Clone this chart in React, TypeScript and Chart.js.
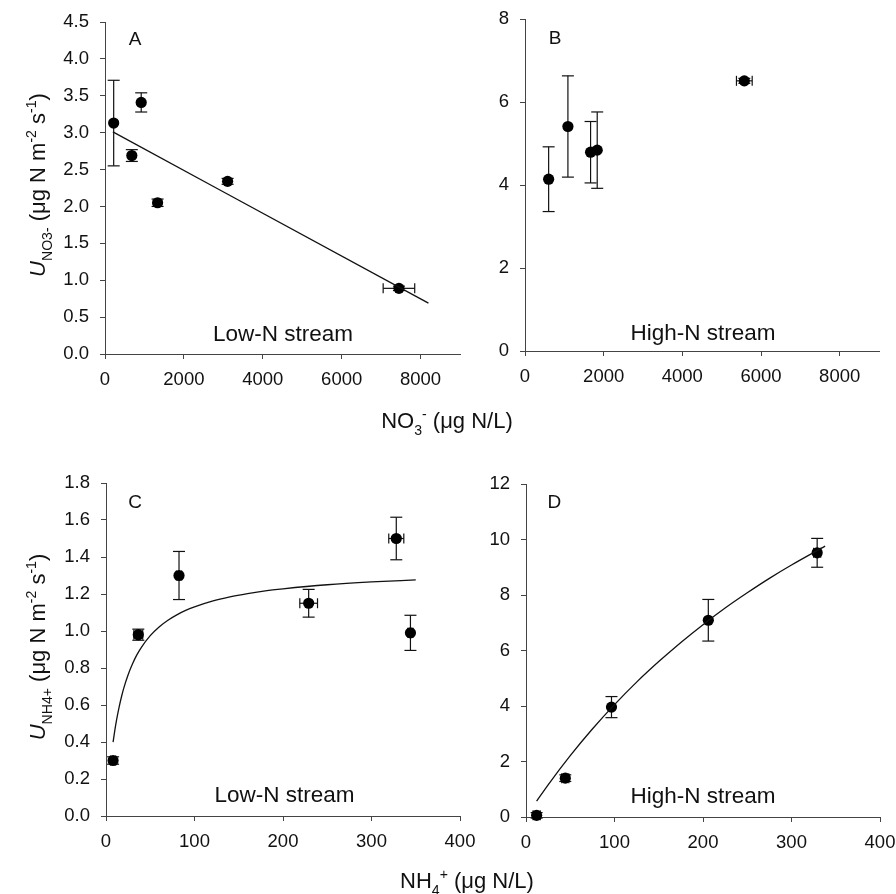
import React, { useEffect, useRef } from 'react';
import { Chart, registerables } from 'chart.js';

Chart.register(...registerables);

// ---------------- data ----------------
// Panel A: NO3- uptake, low-N stream
const A_NO3 = [220, 680, 918, 1333, 3108, 7452];
const A_UPTAKE = [3.13, 2.69, 3.41, 2.05, 2.34, 0.89];
const A_UPTAKE_SE = [0.58, 0.08, 0.13, 0.05, 0.04, 0.03];
const A_NO3_SE = [0, 0, 0, 0, 0, 400];
const A_FIT_X = [200, 8200];
const A_FIT_Y = [3.01, 0.69];

// Panel B: NO3- uptake, high-N stream
const B_NO3 = [601, 1091, 1667, 1836, 5576];
const B_UPTAKE = [4.14, 5.41, 4.79, 4.84, 6.51];
const B_UPTAKE_SE = [0.78, 1.22, 0.74, 0.92, 0.06];
const B_NO3_SE = [0, 0, 0, 0, 200];

// Panel C: NH4+ uptake, low-N stream
const C_NH4 = [8, 36.5, 82.5, 229, 328, 344];
const C_UPTAKE = [0.3, 0.98, 1.3, 1.15, 1.5, 0.99];
const C_UPTAKE_SE = [0.02, 0.03, 0.13, 0.075, 0.115, 0.095];
const C_NH4_SE = [3, 5, 3, 10, 8.5, 3];
const C_FIT_X = [8, 10, 12, 15, 18, 20, 25, 30, 35, 40, 50, 60, 70, 80, 90, 100, 120, 140, 160, 180, 200, 250, 300, 350];
const C_FIT_Y = [0.399, 0.464, 0.521, 0.593, 0.654, 0.69, 0.764, 0.823, 0.872, 0.912, 0.975, 1.022, 1.058, 1.087, 1.111, 1.13, 1.161, 1.184, 1.202, 1.217, 1.228, 1.25, 1.265, 1.276];

// Panel D: NH4+ uptake, high-N stream
const D_NH4 = [12, 44.4, 96.6, 206, 329];
const D_UPTAKE = [0.06, 1.4, 3.96, 7.09, 9.52];
const D_UPTAKE_SE = [0.1, 0.12, 0.38, 0.75, 0.52];
const D_NH4_SE = [4, 4, 0, 0, 4];
const D_FIT_X = [12, 25, 50, 75, 100, 125, 150, 175, 200, 225, 250, 275, 300, 338];
const D_FIT_Y = [0.57, 1.16, 2.21, 3.17, 4.05, 4.86, 5.6, 6.29, 6.93, 7.53, 8.08, 8.6, 9.08, 9.76];

// ticks
const NO3_TICKS = [0, 2000, 4000, 6000, 8000];
const NO3_TICK_LABELS = ['0', '2000', '4000', '6000', '8000'];
const NH4_TICKS = [0, 100, 200, 300, 400];
const NH4_TICK_LABELS = ['0', '100', '200', '300', '400'];
const A_Y_TICKS = [0, 0.5, 1, 1.5, 2, 2.5, 3, 3.5, 4, 4.5];
const A_Y_TICK_LABELS = ['0.0', '0.5', '1.0', '1.5', '2.0', '2.5', '3.0', '3.5', '4.0', '4.5'];
const B_Y_TICKS = [0, 2, 4, 6, 8];
const B_Y_TICK_LABELS = ['0', '2', '4', '6', '8'];
const C_Y_TICKS = [0, 0.2, 0.4, 0.6, 0.8, 1, 1.2, 1.4, 1.6, 1.8];
const C_Y_TICK_LABELS = ['0.0', '0.2', '0.4', '0.6', '0.8', '1.0', '1.2', '1.4', '1.6', '1.8'];
const D_Y_TICKS = [0, 2, 4, 6, 8, 10, 12];
const D_Y_TICK_LABELS = ['0', '2', '4', '6', '8', '10', '12'];

const PANEL_LETTERS = ['A', 'B', 'C', 'D'];
const STREAM_LABELS = ['Low-N stream', 'High-N stream', 'Low-N stream', 'High-N stream'];

type Seg = { t: string; s?: 'sub' | 'sup'; i?: boolean };
const Y_TITLE_NO3: Seg[] = [
  { t: 'U', i: true }, { t: 'NO3-', s: 'sub' }, { t: ' (μg N m' }, { t: '-2', s: 'sup' },
  { t: ' s' }, { t: '-1', s: 'sup' }, { t: ')' },
];
const Y_TITLE_NH4: Seg[] = [
  { t: 'U', i: true }, { t: 'NH4+', s: 'sub' }, { t: ' (μg N m' }, { t: '-2', s: 'sup' },
  { t: ' s' }, { t: '-1', s: 'sup' }, { t: ')' },
];
const X_TITLE_NO3: Seg[] = [{ t: 'NO' }, { t: '3', s: 'sub' }, { t: '-', s: 'sup' }, { t: ' (μg N/L)' }];
const X_TITLE_NH4: Seg[] = [{ t: 'NH' }, { t: '4', s: 'sub' }, { t: '+', s: 'sup' }, { t: ' (μg N/L)' }];

// ---------------- drawing helpers ----------------
const FONT = "'Liberation Sans', Arial, Helvetica, sans-serif";
const INK = '#111';
const AXIS = '#444';

function drawRich(ctx: CanvasRenderingContext2D, segs: Seg[], x: number, y: number, size: number, rot: number) {
  const small = size * 0.64;
  ctx.save();
  ctx.translate(x, y);
  if (rot) ctx.rotate(rot);
  ctx.textAlign = 'left';
  ctx.textBaseline = 'alphabetic';
  ctx.fillStyle = INK;
  const f = (g: Seg) => `${g.i ? 'italic ' : ''}${g.s ? small : size}px ${FONT}`;
  let w = 0;
  const ws = segs.map((g) => {
    ctx.font = f(g);
    const m = ctx.measureText(g.t).width;
    w += m;
    return m;
  });
  let cx = -w / 2;
  segs.forEach((g, k) => {
    ctx.font = f(g);
    const dy = g.s === 'sub' ? size * 0.3 : g.s === 'sup' ? -size * 0.42 : 0;
    ctx.fillText(g.t, cx, dy);
    cx += ws[k];
  });
  ctx.restore();
}

interface Title { segs: Seg[]; x: number; y: number; rot: number }
interface PanelSpec {
  xs: number[]; ys: number[]; yErr: number[]; xErr: number[];
  fitX: number[]; fitY: number[];
  xMin: number; xMax: number; yMin: number; yMax: number;
  xTicks: number[]; xLabels: string[]; yTicks: number[]; yLabels: string[];
  area: { l: number; r: number; t: number; b: number }; padR: number;
  letter: string; letterPos: [number, number];
  stream: string; streamPos: [number, number];
  titles: Title[];
}

const PANELS: PanelSpec[] = [
  {
    xs: A_NO3, ys: A_UPTAKE, yErr: A_UPTAKE_SE, xErr: A_NO3_SE, fitX: A_FIT_X, fitY: A_FIT_Y,
    xMin: 0, xMax: 9000, yMin: 0, yMax: 4.5,
    xTicks: NO3_TICKS, xLabels: NO3_TICK_LABELS, yTicks: A_Y_TICKS, yLabels: A_Y_TICK_LABELS,
    area: { l: 105, r: 460, t: 22, b: 354 }, padR: 100,
    letter: PANEL_LETTERS[0], letterPos: [135, 44.5],
    stream: STREAM_LABELS[0], streamPos: [283, 340.5],
    titles: [
      { segs: Y_TITLE_NO3, x: 45, y: 185, rot: -Math.PI / 2 },
      { segs: X_TITLE_NO3, x: 447, y: 428, rot: 0 },
    ],
  },
  {
    xs: B_NO3, ys: B_UPTAKE, yErr: B_UPTAKE_SE, xErr: B_NO3_SE, fitX: [], fitY: [],
    xMin: 0, xMax: 9000, yMin: 0, yMax: 8,
    xTicks: NO3_TICKS, xLabels: NO3_TICK_LABELS, yTicks: B_Y_TICKS, yLabels: B_Y_TICK_LABELS,
    area: { l: 525, r: 879, t: 19, b: 351 }, padR: 40,
    letter: PANEL_LETTERS[1], letterPos: [555, 44.3],
    stream: STREAM_LABELS[1], streamPos: [703, 340],
    titles: [],
  },
  {
    xs: C_NH4, ys: C_UPTAKE, yErr: C_UPTAKE_SE, xErr: C_NH4_SE, fitX: C_FIT_X, fitY: C_FIT_Y,
    xMin: 0, xMax: 400, yMin: 0, yMax: 1.8,
    xTicks: NH4_TICKS, xLabels: NH4_TICK_LABELS, yTicks: C_Y_TICKS, yLabels: C_Y_TICK_LABELS,
    area: { l: 106, r: 460, t: 483, b: 816 }, padR: 100,
    letter: PANEL_LETTERS[2], letterPos: [135, 507.7],
    stream: STREAM_LABELS[2], streamPos: [284.5, 802.3],
    titles: [
      { segs: Y_TITLE_NH4, x: 45, y: 647, rot: -Math.PI / 2 },
      { segs: X_TITLE_NH4, x: 467, y: 888, rot: 0 },
    ],
  },
  {
    xs: D_NH4, ys: D_UPTAKE, yErr: D_UPTAKE_SE, xErr: D_NH4_SE, fitX: D_FIT_X, fitY: D_FIT_Y,
    xMin: 0, xMax: 400, yMin: 0, yMax: 12,
    xTicks: NH4_TICKS, xLabels: NH4_TICK_LABELS, yTicks: D_Y_TICKS, yLabels: D_Y_TICK_LABELS,
    area: { l: 526, r: 880, t: 484, b: 817 }, padR: 40,
    letter: PANEL_LETTERS[3], letterPos: [554.3, 507.7],
    stream: STREAM_LABELS[3], streamPos: [703, 803.3],
    titles: [],
  },
];

const PAD_L = 70, Y_W = 50, PAD_T = 40, X_H = 60, PAD_B = 40;

function geom(p: PanelSpec) {
  const left = p.area.l - PAD_L - Y_W;
  const top = p.area.t - PAD_T;
  const width = PAD_L + Y_W + (p.area.r - p.area.l) + p.padR;
  const height = PAD_T + (p.area.b - p.area.t) + X_H + PAD_B;
  return { left, top, width, height };
}

function makeChart(canvas: HTMLCanvasElement, p: PanelSpec) {
  const g = geom(p);
  const tickFont = { family: FONT, size: 18.5 };
  const datasets: any[] = [];
  if (p.fitX.length) {
    datasets.push({
      data: p.fitX.map((x, i) => ({ x, y: p.fitY[i] })),
      showLine: true,
      pointRadius: 0,
      borderColor: INK,
      borderWidth: 1.3,
      cubicInterpolationMode: 'monotone',
      fill: false,
      clip: false,
    });
  }
  datasets.push({
    data: p.xs.map((x, i) => ({ x, y: p.ys[i] })),
    showLine: false,
    pointRadius: 5.6,
    pointHoverRadius: 5.6,
    backgroundColor: '#000',
    borderColor: '#000',
    borderWidth: 0,
    clip: false,
  });

  const extras = {
    id: 'extras',
    beforeDatasetsDraw(chart: any) {
      const ctx: CanvasRenderingContext2D = chart.ctx;
      const sx = chart.scales.x, sy = chart.scales.y;
      ctx.save();
      ctx.strokeStyle = INK;
      ctx.lineWidth = 1.2;
      const seg = (x1: number, y1: number, x2: number, y2: number) => {
        ctx.beginPath(); ctx.moveTo(x1, y1); ctx.lineTo(x2, y2); ctx.stroke();
      };
      p.xs.forEach((xv, i) => {
        const px = sx.getPixelForValue(xv);
        const py = sy.getPixelForValue(p.ys[i]);
        const ey = p.yErr[i];
        if (ey > 0) {
          const y1 = sy.getPixelForValue(p.ys[i] + ey);
          const y2 = sy.getPixelForValue(p.ys[i] - ey);
          seg(px, y1, px, y2);
          seg(px - 6, y1, px + 6, y1);
          seg(px - 6, y2, px + 6, y2);
        }
        const ex = p.xErr[i];
        if (ex > 0) {
          const x1 = sx.getPixelForValue(xv - ex);
          const x2 = sx.getPixelForValue(xv + ex);
          seg(x1, py, x2, py);
          seg(x1, py - 5, x1, py + 5);
          seg(x2, py - 5, x2, py + 5);
        }
      });
      ctx.restore();
    },
    afterDraw(chart: any) {
      const ctx: CanvasRenderingContext2D = chart.ctx;
      ctx.save();
      ctx.fillStyle = INK;
      ctx.textAlign = 'center';
      ctx.textBaseline = 'alphabetic';
      ctx.font = `19px ${FONT}`;
      ctx.fillText(p.letter, p.letterPos[0] - g.left, p.letterPos[1] - g.top);
      ctx.font = `22.5px ${FONT}`;
      ctx.fillText(p.stream, p.streamPos[0] - g.left, p.streamPos[1] - g.top);
      ctx.restore();
      p.titles.forEach((t) => drawRich(ctx, t.segs, t.x - g.left, t.y - g.top, 22, t.rot));
    },
  };

  return new Chart(canvas, {
    type: 'scatter',
    data: { datasets },
    options: {
      responsive: false,
      maintainAspectRatio: false,
      animation: false,
      events: [],
      layout: { padding: { left: PAD_L, right: p.padR, top: PAD_T, bottom: PAD_B } },
      plugins: { legend: { display: false }, tooltip: { enabled: false }, title: { display: false } },
      scales: {
        x: {
          type: 'linear',
          min: p.xMin,
          max: p.xMax,
          afterBuildTicks: (s: any) => { s.ticks = p.xTicks.map((v) => ({ value: v })); },
          afterFit: (s: any) => { s.height = X_H; },
          ticks: {
            font: tickFont, color: INK, padding: 10, maxRotation: 0, autoSkip: false,
            callback: (v: any) => p.xLabels[p.xTicks.indexOf(Number(v))] ?? '',
          },
          grid: { display: true, drawOnChartArea: false, drawTicks: true, tickLength: 5, color: AXIS, lineWidth: 1 },
          border: { display: true, color: AXIS, width: 1 },
        },
        y: {
          type: 'linear',
          min: p.yMin,
          max: p.yMax,
          afterBuildTicks: (s: any) => { s.ticks = p.yTicks.map((v) => ({ value: v })); },
          afterFit: (s: any) => { s.width = Y_W; },
          ticks: {
            font: tickFont, color: INK, padding: 11, autoSkip: false,
            callback: (v: any) => {
              const k = p.yTicks.findIndex((t) => Math.abs(t - Number(v)) < 1e-9);
              return k >= 0 ? p.yLabels[k] : '';
            },
          },
          grid: { display: true, drawOnChartArea: false, drawTicks: true, tickLength: 5, color: AXIS, lineWidth: 1 },
          border: { display: true, color: AXIS, width: 1 },
        },
      },
    } as any,
    plugins: [extras as any],
  });
}

export default function App() {
  const refs = [useRef<HTMLCanvasElement>(null), useRef<HTMLCanvasElement>(null), useRef<HTMLCanvasElement>(null), useRef<HTMLCanvasElement>(null)];

  useEffect(() => {
    const charts = PANELS.map((p, i) => makeChart(refs[i].current as HTMLCanvasElement, p));
    return () => charts.forEach((c) => c.destroy());
  }, []);

  return (
    <div style={{ position: 'absolute', left: 0, top: 0, width: 896, height: 894, overflow: 'hidden', background: '#fff' }}>
      {PANELS.map((p, i) => {
        const g = geom(p);
        return (
          <canvas
            key={i}
            ref={refs[i]}
            width={g.width}
            height={g.height}
            style={{ position: 'absolute', left: g.left, top: g.top, width: g.width, height: g.height }}
          />
        );
      })}
    </div>
  );
}
